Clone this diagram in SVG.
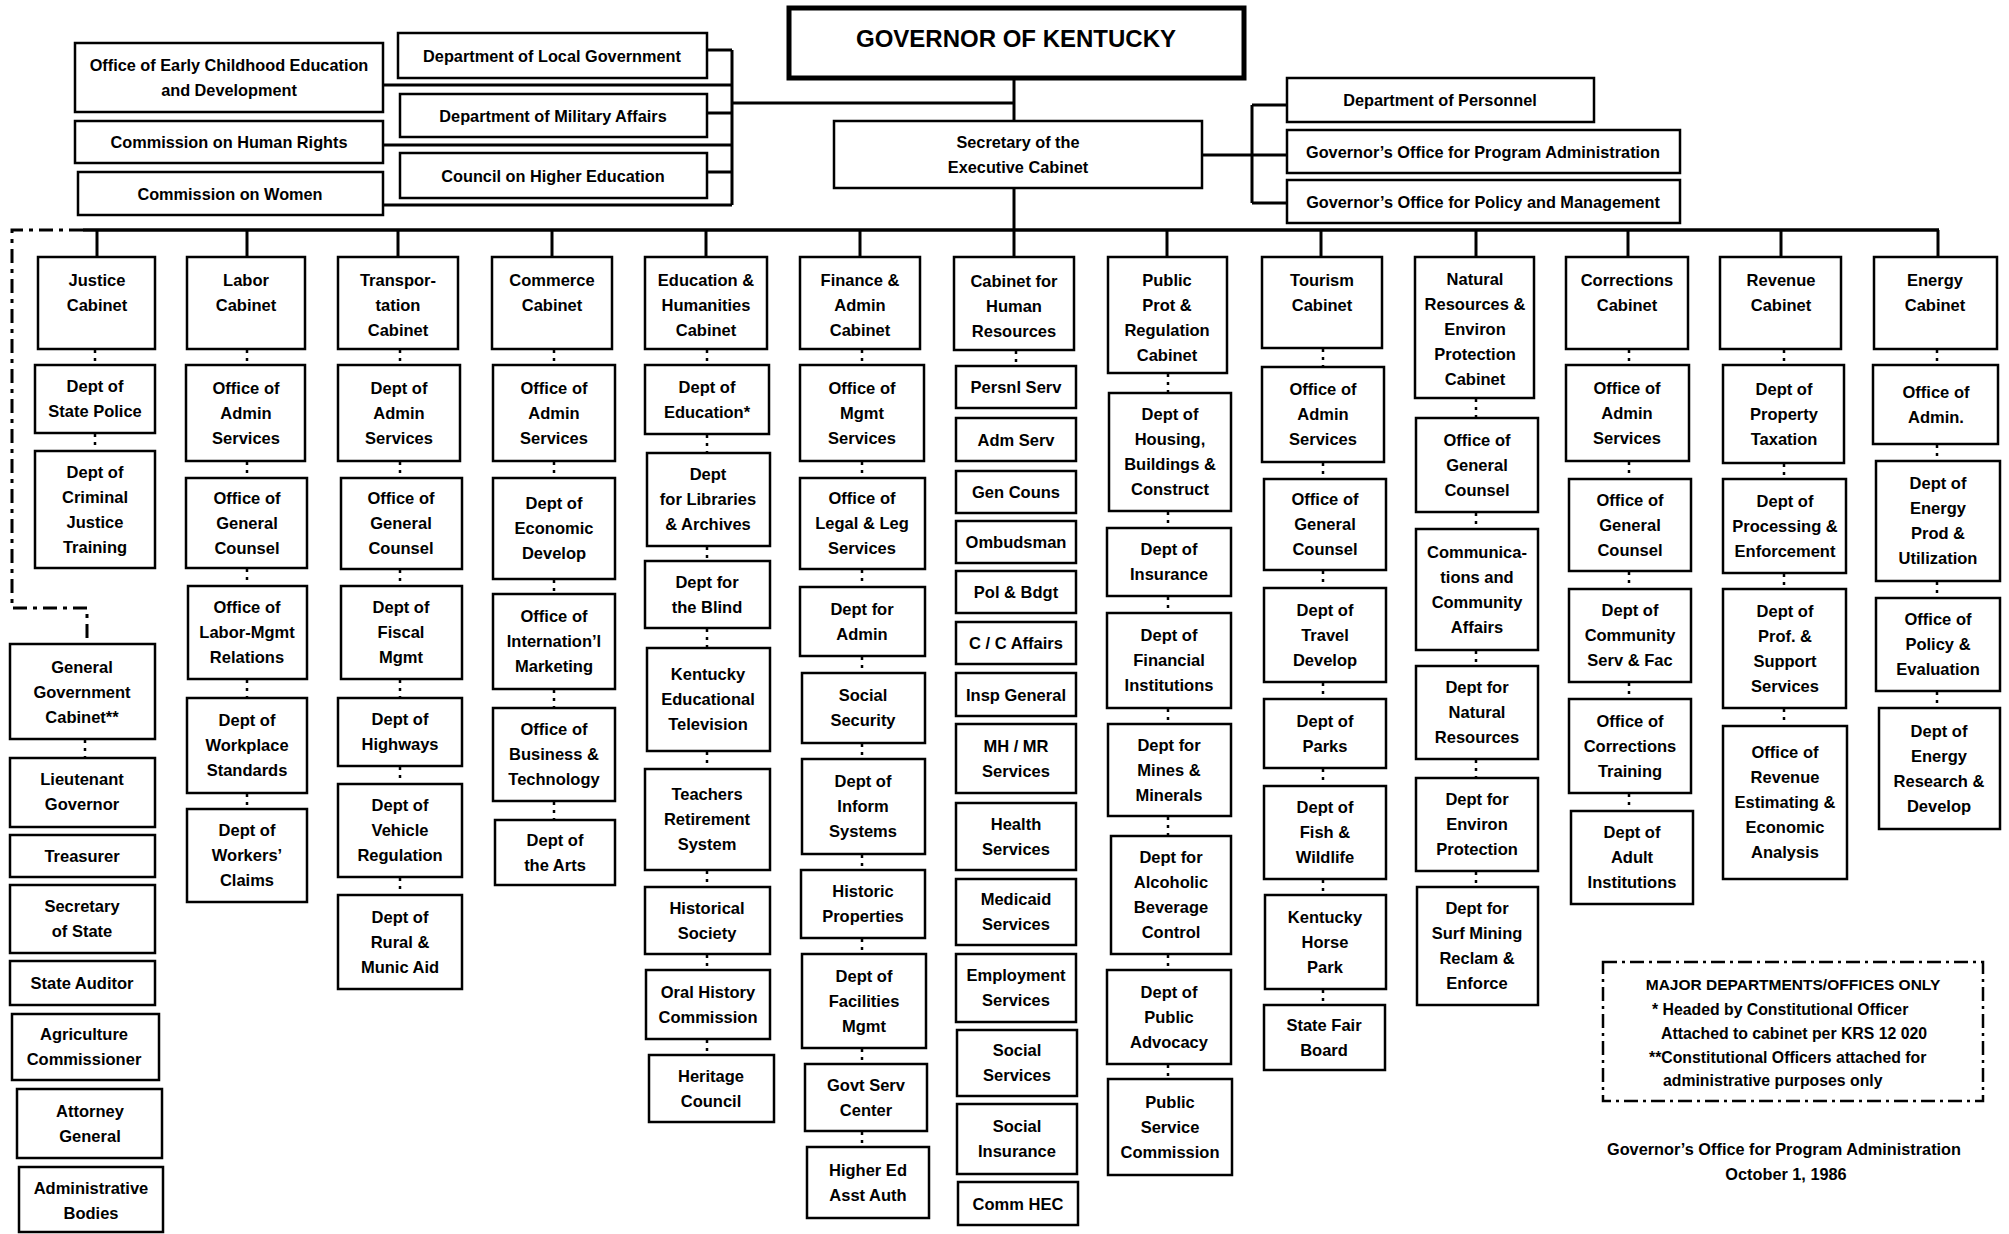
<svg xmlns="http://www.w3.org/2000/svg" width="2009" height="1234" viewBox="0 0 2009 1234">
<style>
.node rect{fill:#fff;stroke:#000;stroke-width:2.5}
text{font-family:"Liberation Sans",Arial,sans-serif;font-weight:bold;font-size:16.5px;text-anchor:middle;fill:#000}
.top text{font-size:16.3px}
#governor rect{stroke-width:5}
#governor text{font-size:24px}
.conn line,.conn path{stroke:#000;stroke-width:3;fill:none}
.conn .dot{stroke-width:2.5;stroke-dasharray:3 5}
.conn .dashdot{stroke-width:3;stroke-dasharray:14 6 4 6}
.legend rect{fill:none;stroke:#000;stroke-width:2.5;stroke-dasharray:14 5 3 5}
.legend text{font-size:15.8px;text-anchor:start}
.legend .c{text-anchor:middle;font-size:15.5px}
.footer text{font-size:16.3px}
</style>
<rect width="2009" height="1234" fill="#fff"/>

<g class="conn" id="connectors">
<line x1="1014" y1="78" x2="1014" y2="121"/>
<line x1="732" y1="103" x2="1014" y2="103"/>
<line x1="732" y1="50" x2="732" y2="205"/>
<line x1="707" y1="50" x2="732" y2="50"/>
<line x1="707" y1="113" x2="732" y2="113"/>
<line x1="707" y1="172" x2="732" y2="172"/>
<line x1="383" y1="85" x2="732" y2="85"/>
<line x1="383" y1="145" x2="732" y2="145"/>
<line x1="383" y1="205" x2="732" y2="205"/>
<line x1="1014" y1="188" x2="1014" y2="230"/>
<line x1="1202" y1="155" x2="1287" y2="155"/>
<line x1="1252" y1="105" x2="1252" y2="203"/>
<line x1="1252" y1="105" x2="1287" y2="105"/>
<line x1="1252" y1="203" x2="1287" y2="203"/>
<line x1="83" y1="230" x2="1939" y2="230" style="stroke-width:3.5"/>
<line x1="97" y1="230" x2="97" y2="257"/>
<line x1="247" y1="230" x2="247" y2="257"/>
<line x1="398" y1="230" x2="398" y2="257"/>
<line x1="552" y1="230" x2="552" y2="257"/>
<line x1="706" y1="230" x2="706" y2="257"/>
<line x1="860" y1="230" x2="860" y2="257"/>
<line x1="1014" y1="230" x2="1014" y2="257"/>
<line x1="1167" y1="230" x2="1167" y2="257"/>
<line x1="1321" y1="230" x2="1321" y2="257"/>
<line x1="1476" y1="230" x2="1476" y2="257"/>
<line x1="1628" y1="230" x2="1628" y2="257"/>
<line x1="1781" y1="230" x2="1781" y2="257"/>
<line x1="1938" y1="230" x2="1938" y2="257"/>
<path class="dashdot" d="M83,230 H12 V608 H87 V644"/>
<line class="dot" x1="95" y1="350" x2="95" y2="365"/>
<line class="dot" x1="95" y1="434" x2="95" y2="451"/>
<line class="dot" x1="85" y1="740" x2="85" y2="758"/>
<line class="dot" x1="247" y1="350" x2="247" y2="365"/>
<line class="dot" x1="247" y1="462" x2="247" y2="478"/>
<line class="dot" x1="247" y1="569" x2="247" y2="586"/>
<line class="dot" x1="247" y1="680" x2="247" y2="698"/>
<line class="dot" x1="247" y1="794" x2="247" y2="809"/>
<line class="dot" x1="400" y1="350" x2="400" y2="365"/>
<line class="dot" x1="400" y1="462" x2="400" y2="478"/>
<line class="dot" x1="400" y1="570" x2="400" y2="586"/>
<line class="dot" x1="400" y1="680" x2="400" y2="698"/>
<line class="dot" x1="400" y1="767" x2="400" y2="784"/>
<line class="dot" x1="400" y1="878" x2="400" y2="895"/>
<line class="dot" x1="554" y1="350" x2="554" y2="365"/>
<line class="dot" x1="554" y1="462" x2="554" y2="478"/>
<line class="dot" x1="554" y1="580" x2="554" y2="594"/>
<line class="dot" x1="554" y1="690" x2="554" y2="708"/>
<line class="dot" x1="554" y1="802" x2="554" y2="820"/>
<line class="dot" x1="707" y1="350" x2="707" y2="365"/>
<line class="dot" x1="707" y1="435" x2="707" y2="453"/>
<line class="dot" x1="707" y1="547" x2="707" y2="561"/>
<line class="dot" x1="707" y1="629" x2="707" y2="648"/>
<line class="dot" x1="707" y1="752" x2="707" y2="769"/>
<line class="dot" x1="707" y1="871" x2="707" y2="887"/>
<line class="dot" x1="707" y1="955" x2="707" y2="970"/>
<line class="dot" x1="707" y1="1040" x2="707" y2="1055"/>
<line class="dot" x1="862" y1="350" x2="862" y2="365"/>
<line class="dot" x1="862" y1="462" x2="862" y2="478"/>
<line class="dot" x1="862" y1="570" x2="862" y2="587"/>
<line class="dot" x1="862" y1="657" x2="862" y2="673"/>
<line class="dot" x1="862" y1="744" x2="862" y2="759"/>
<line class="dot" x1="862" y1="855" x2="862" y2="870"/>
<line class="dot" x1="862" y1="939" x2="862" y2="954"/>
<line class="dot" x1="862" y1="1049" x2="862" y2="1064"/>
<line class="dot" x1="862" y1="1132" x2="862" y2="1147"/>
<line class="dot" x1="1016" y1="351" x2="1016" y2="366"/>
<line class="dot" x1="1168" y1="374" x2="1168" y2="393"/>
<line class="dot" x1="1168" y1="512" x2="1168" y2="528"/>
<line class="dot" x1="1168" y1="597" x2="1168" y2="613"/>
<line class="dot" x1="1168" y1="709" x2="1168" y2="724"/>
<line class="dot" x1="1168" y1="817" x2="1168" y2="836"/>
<line class="dot" x1="1168" y1="955" x2="1168" y2="970"/>
<line class="dot" x1="1168" y1="1065" x2="1168" y2="1079"/>
<line class="dot" x1="1323" y1="349" x2="1323" y2="367"/>
<line class="dot" x1="1323" y1="463" x2="1323" y2="479"/>
<line class="dot" x1="1323" y1="571" x2="1323" y2="588"/>
<line class="dot" x1="1323" y1="683" x2="1323" y2="699"/>
<line class="dot" x1="1323" y1="769" x2="1323" y2="786"/>
<line class="dot" x1="1323" y1="880" x2="1323" y2="895"/>
<line class="dot" x1="1323" y1="990" x2="1323" y2="1005"/>
<line class="dot" x1="1476" y1="399" x2="1476" y2="418"/>
<line class="dot" x1="1476" y1="513" x2="1476" y2="529"/>
<line class="dot" x1="1476" y1="651" x2="1476" y2="666"/>
<line class="dot" x1="1476" y1="760" x2="1476" y2="778"/>
<line class="dot" x1="1476" y1="872" x2="1476" y2="887"/>
<line class="dot" x1="1629" y1="350" x2="1629" y2="365"/>
<line class="dot" x1="1629" y1="462" x2="1629" y2="479"/>
<line class="dot" x1="1629" y1="572" x2="1629" y2="589"/>
<line class="dot" x1="1629" y1="683" x2="1629" y2="699"/>
<line class="dot" x1="1629" y1="794" x2="1629" y2="811"/>
<line class="dot" x1="1784" y1="350" x2="1784" y2="365"/>
<line class="dot" x1="1784" y1="464" x2="1784" y2="479"/>
<line class="dot" x1="1784" y1="574" x2="1784" y2="589"/>
<line class="dot" x1="1784" y1="709" x2="1784" y2="726"/>
<line class="dot" x1="1937" y1="350" x2="1937" y2="365"/>
<line class="dot" x1="1937" y1="445" x2="1937" y2="461"/>
<line class="dot" x1="1937" y1="582" x2="1937" y2="598"/>
<line class="dot" x1="1937" y1="692" x2="1937" y2="708"/>
</g>

<!-- Top -->
<g id="governor" class="node"><rect x="789" y="8" width="455" height="70"/><text x="1016" y="47">GOVERNOR OF KENTUCKY</text></g>
<g id="secretary" class="node top"><rect x="834" y="121" width="368" height="67"/><text x="1018" y="148">Secretary of the<tspan x="1018" dy="25">Executive Cabinet</tspan></text></g>
<g id="early-childhood" class="node top"><rect x="75" y="43" width="308" height="69"/><text x="229" y="71">Office of Early Childhood Education<tspan x="229" dy="25">and Development</tspan></text></g>
<g id="human-rights" class="node top"><rect x="75" y="121" width="308" height="42"/><text x="229" y="148">Commission on Human Rights</text></g>
<g id="women" class="node top"><rect x="78" y="172" width="305" height="43"/><text x="230" y="199.5">Commission on Women</text></g>
<g id="local-gov" class="node top"><rect x="398" y="33" width="309" height="45"/><text x="552" y="61.5">Department of Local Government</text></g>
<g id="military" class="node top"><rect x="400" y="94" width="307" height="43"/><text x="553" y="121.5">Department of Military Affairs</text></g>
<g id="higher-ed-council" class="node top"><rect x="400" y="153" width="307" height="45"/><text x="553" y="181.5">Council on Higher Education</text></g>
<g id="personnel" class="node top"><rect x="1287" y="78" width="307" height="44"/><text x="1440" y="105.5">Department of Personnel</text></g>
<g id="program-admin" class="node top"><rect x="1287" y="130" width="393" height="43"/><text x="1483" y="157.5">Governor’s Office for Program Administration</text></g>
<g id="policy-mgmt" class="node top"><rect x="1287" y="180" width="393" height="43"/><text x="1483" y="207.5">Governor’s Office for Policy and Management</text></g>

<!-- Col 1 Justice -->
<g id="justice" class="node"><rect x="38" y="257" width="117" height="92"/><text x="97" y="286">Justice<tspan x="97" dy="25">Cabinet</tspan></text></g>
<g id="state-police" class="node"><rect x="35" y="365" width="120" height="68"/><text x="95" y="392">Dept of<tspan x="95" dy="25">State Police</tspan></text></g>
<g id="criminal-justice" class="node"><rect x="35" y="451" width="120" height="117"/><text x="95" y="477.5">Dept of<tspan x="95" dy="25">Criminal</tspan><tspan x="95" dy="25">Justice</tspan><tspan x="95" dy="25">Training</tspan></text></g>

<!-- General Government -->
<g id="gen-gov" class="node"><rect x="10" y="644" width="145" height="95"/><text x="82" y="673">General<tspan x="82" dy="25">Government</tspan><tspan x="82" dy="25">Cabinet**</tspan></text></g>
<g id="lt-gov" class="node"><rect x="10" y="758" width="145" height="69"/><text x="82" y="785">Lieutenant<tspan x="82" dy="25">Governor</tspan></text></g>
<g id="treasurer" class="node"><rect x="10" y="835" width="145" height="42"/><text x="82" y="861.5">Treasurer</text></g>
<g id="sec-state" class="node"><rect x="10" y="885" width="145" height="68"/><text x="82" y="912">Secretary<tspan x="82" dy="25">of State</tspan></text></g>
<g id="state-auditor" class="node"><rect x="10" y="961" width="145" height="44"/><text x="82" y="988.5">State Auditor</text></g>
<g id="agriculture" class="node"><rect x="12" y="1014" width="147" height="66"/><text x="84" y="1040">Agriculture<tspan x="84" dy="25">Commissioner</tspan></text></g>
<g id="attorney-general" class="node"><rect x="17" y="1089" width="145" height="69"/><text x="90" y="1116.5">Attorney<tspan x="90" dy="25">General</tspan></text></g>
<g id="admin-bodies" class="node"><rect x="19" y="1167" width="144" height="65"/><text x="91" y="1194">Administrative<tspan x="91" dy="25">Bodies</tspan></text></g>

<!-- Col 2 Labor -->
<g id="labor" class="node"><rect x="187" y="257" width="118" height="92"/><text x="246" y="286">Labor<tspan x="246" dy="25">Cabinet</tspan></text></g>
<g id="labor-admin" class="node"><rect x="186" y="365" width="119" height="96"/><text x="246" y="393.5">Office of<tspan x="246" dy="25">Admin</tspan><tspan x="246" dy="25">Services</tspan></text></g>
<g id="labor-counsel" class="node"><rect x="186" y="478" width="121" height="90"/><text x="247" y="503.5">Office of<tspan x="247" dy="25">General</tspan><tspan x="247" dy="25">Counsel</tspan></text></g>
<g id="labor-mgmt" class="node"><rect x="188" y="586" width="119" height="93"/><text x="247" y="613">Office of<tspan x="247" dy="25">Labor-Mgmt</tspan><tspan x="247" dy="25">Relations</tspan></text></g>
<g id="workplace" class="node"><rect x="187" y="698" width="120" height="95"/><text x="247" y="726">Dept of<tspan x="247" dy="25">Workplace</tspan><tspan x="247" dy="25">Standards</tspan></text></g>
<g id="workers-claims" class="node"><rect x="187" y="809" width="120" height="93"/><text x="247" y="836">Dept of<tspan x="247" dy="25">Workers’</tspan><tspan x="247" dy="25">Claims</tspan></text></g>

<!-- Col 3 Transportation -->
<g id="transportation" class="node"><rect x="338" y="257" width="120" height="92"/><text x="398" y="286">Transpor-<tspan x="398" dy="25">tation</tspan><tspan x="398" dy="25">Cabinet</tspan></text></g>
<g id="trans-admin" class="node"><rect x="338" y="365" width="122" height="96"/><text x="399" y="393.5">Dept of<tspan x="399" dy="25">Admin</tspan><tspan x="399" dy="25">Services</tspan></text></g>
<g id="trans-counsel" class="node"><rect x="341" y="478" width="121" height="91"/><text x="401" y="504">Office of<tspan x="401" dy="25">General</tspan><tspan x="401" dy="25">Counsel</tspan></text></g>
<g id="fiscal" class="node"><rect x="341" y="586" width="121" height="93"/><text x="401" y="613">Dept of<tspan x="401" dy="25">Fiscal</tspan><tspan x="401" dy="25">Mgmt</tspan></text></g>
<g id="highways" class="node"><rect x="338" y="698" width="124" height="68"/><text x="400" y="725">Dept of<tspan x="400" dy="25">Highways</tspan></text></g>
<g id="vehicle" class="node"><rect x="338" y="784" width="124" height="93"/><text x="400" y="811">Dept of<tspan x="400" dy="25">Vehicle</tspan><tspan x="400" dy="25">Regulation</tspan></text></g>
<g id="rural" class="node"><rect x="338" y="895" width="124" height="94"/><text x="400" y="922.5">Dept of<tspan x="400" dy="25">Rural &amp;</tspan><tspan x="400" dy="25">Munic Aid</tspan></text></g>

<!-- Col 4 Commerce -->
<g id="commerce" class="node"><rect x="492" y="257" width="120" height="92"/><text x="552" y="286">Commerce<tspan x="552" dy="25">Cabinet</tspan></text></g>
<g id="comm-admin" class="node"><rect x="493" y="365" width="122" height="96"/><text x="554" y="393.5">Office of<tspan x="554" dy="25">Admin</tspan><tspan x="554" dy="25">Services</tspan></text></g>
<g id="econ" class="node"><rect x="493" y="478" width="122" height="101"/><text x="554" y="509">Dept of<tspan x="554" dy="25">Economic</tspan><tspan x="554" dy="25">Develop</tspan></text></g>
<g id="intl" class="node"><rect x="493" y="594" width="122" height="95"/><text x="554" y="622">Office of<tspan x="554" dy="25">Internation’l</tspan><tspan x="554" dy="25">Marketing</tspan></text></g>
<g id="business" class="node"><rect x="493" y="708" width="122" height="93"/><text x="554" y="735">Office of<tspan x="554" dy="25">Business &amp;</tspan><tspan x="554" dy="25">Technology</tspan></text></g>
<g id="arts" class="node"><rect x="495" y="820" width="120" height="65"/><text x="555" y="845.5">Dept of<tspan x="555" dy="25">the Arts</tspan></text></g>

<!-- Col 5 Education -->
<g id="education" class="node"><rect x="645" y="257" width="122" height="92"/><text x="706" y="286">Education &amp;<tspan x="706" dy="25">Humanities</tspan><tspan x="706" dy="25">Cabinet</tspan></text></g>
<g id="dept-education" class="node"><rect x="645" y="365" width="124" height="69"/><text x="707" y="392.5">Dept of<tspan x="707" dy="25">Education*</tspan></text></g>
<g id="libraries" class="node"><rect x="647" y="453" width="123" height="93"/><text x="708" y="480">Dept<tspan x="708" dy="25">for Libraries</tspan><tspan x="708" dy="25">&amp; Archives</tspan></text></g>
<g id="blind" class="node"><rect x="645" y="561" width="125" height="67"/><text x="707" y="587.5">Dept for<tspan x="707" dy="25">the Blind</tspan></text></g>
<g id="ket" class="node"><rect x="647" y="648" width="123" height="103"/><text x="708" y="680">Kentucky<tspan x="708" dy="25">Educational</tspan><tspan x="708" dy="25">Television</tspan></text></g>
<g id="teachers" class="node"><rect x="645" y="769" width="125" height="101"/><text x="707" y="800">Teachers<tspan x="707" dy="25">Retirement</tspan><tspan x="707" dy="25">System</tspan></text></g>
<g id="historical" class="node"><rect x="645" y="887" width="125" height="67"/><text x="707" y="913.5">Historical<tspan x="707" dy="25">Society</tspan></text></g>
<g id="oral-history" class="node"><rect x="646" y="970" width="124" height="69"/><text x="708" y="997.5">Oral History<tspan x="708" dy="25">Commission</tspan></text></g>
<g id="heritage" class="node"><rect x="649" y="1055" width="125" height="67"/><text x="711" y="1081.5">Heritage<tspan x="711" dy="25">Council</tspan></text></g>

<!-- Col 6 Finance -->
<g id="finance" class="node"><rect x="800" y="257" width="120" height="92"/><text x="860" y="286">Finance &amp;<tspan x="860" dy="25">Admin</tspan><tspan x="860" dy="25">Cabinet</tspan></text></g>
<g id="fin-mgmt" class="node"><rect x="800" y="365" width="124" height="96"/><text x="862" y="393.5">Office of<tspan x="862" dy="25">Mgmt</tspan><tspan x="862" dy="25">Services</tspan></text></g>
<g id="fin-legal" class="node"><rect x="800" y="478" width="125" height="91"/><text x="862" y="504">Office of<tspan x="862" dy="25">Legal &amp; Leg</tspan><tspan x="862" dy="25">Services</tspan></text></g>
<g id="fin-admin" class="node"><rect x="800" y="587" width="125" height="69"/><text x="862" y="614.5">Dept for<tspan x="862" dy="25">Admin</tspan></text></g>
<g id="social-security" class="node"><rect x="802" y="673" width="123" height="70"/><text x="863" y="701">Social<tspan x="863" dy="25">Security</tspan></text></g>
<g id="inform" class="node"><rect x="802" y="759" width="123" height="95"/><text x="863" y="787">Dept of<tspan x="863" dy="25">Inform</tspan><tspan x="863" dy="25">Systems</tspan></text></g>
<g id="historic-prop" class="node"><rect x="801" y="870" width="124" height="68"/><text x="863" y="897">Historic<tspan x="863" dy="25">Properties</tspan></text></g>
<g id="facilities" class="node"><rect x="802" y="954" width="124" height="94"/><text x="864" y="981.5">Dept of<tspan x="864" dy="25">Facilities</tspan><tspan x="864" dy="25">Mgmt</tspan></text></g>
<g id="govt-serv" class="node"><rect x="805" y="1064" width="122" height="67"/><text x="866" y="1090.5">Govt Serv<tspan x="866" dy="25">Center</tspan></text></g>
<g id="higher-ed-auth" class="node"><rect x="807" y="1147" width="122" height="71"/><text x="868" y="1175.5">Higher Ed<tspan x="868" dy="25">Asst Auth</tspan></text></g>

<!-- Col 7 Human Resources -->
<g id="human-resources" class="node"><rect x="954" y="257" width="120" height="93"/><text x="1014" y="287">Cabinet for<tspan x="1014" dy="25">Human</tspan><tspan x="1014" dy="25">Resources</tspan></text></g>
<g id="persnl" class="node"><rect x="956" y="366" width="120" height="42"/><text x="1016" y="393">Persnl Serv</text></g>
<g id="adm-serv" class="node"><rect x="956" y="418" width="120" height="43"/><text x="1016" y="445.5">Adm Serv</text></g>
<g id="gen-couns" class="node"><rect x="956" y="471" width="120" height="42"/><text x="1016" y="498">Gen Couns</text></g>
<g id="ombudsman" class="node"><rect x="956" y="521" width="120" height="42"/><text x="1016" y="548">Ombudsman</text></g>
<g id="pol-bdgt" class="node"><rect x="956" y="571" width="120" height="42"/><text x="1016" y="598">Pol &amp; Bdgt</text></g>
<g id="cc-affairs" class="node"><rect x="956" y="622" width="120" height="42"/><text x="1016" y="649">C / C Affairs</text></g>
<g id="insp-general" class="node"><rect x="956" y="673" width="120" height="43"/><text x="1016" y="700.5">Insp General</text></g>
<g id="mhmr" class="node"><rect x="956" y="724" width="120" height="69"/><text x="1016" y="751.5">MH / MR<tspan x="1016" dy="25">Services</tspan></text></g>
<g id="health" class="node"><rect x="956" y="803" width="120" height="67"/><text x="1016" y="829.5">Health<tspan x="1016" dy="25">Services</tspan></text></g>
<g id="medicaid" class="node"><rect x="956" y="879" width="120" height="66"/><text x="1016" y="905">Medicaid<tspan x="1016" dy="25">Services</tspan></text></g>
<g id="employment" class="node"><rect x="956" y="954" width="120" height="68"/><text x="1016" y="981">Employment<tspan x="1016" dy="25">Services</tspan></text></g>
<g id="social-services" class="node"><rect x="957" y="1030" width="120" height="66"/><text x="1017" y="1056">Social<tspan x="1017" dy="25">Services</tspan></text></g>
<g id="social-insurance" class="node"><rect x="957" y="1104" width="120" height="70"/><text x="1017" y="1132">Social<tspan x="1017" dy="25">Insurance</tspan></text></g>
<g id="comm-hec" class="node"><rect x="958" y="1182" width="120" height="43"/><text x="1018" y="1209.5">Comm HEC</text></g>

<!-- Col 8 Public Protection -->
<g id="public-prot" class="node"><rect x="1108" y="257" width="119" height="116"/><text x="1167" y="286">Public<tspan x="1167" dy="25">Prot &amp;</tspan><tspan x="1167" dy="25">Regulation</tspan><tspan x="1167" dy="25">Cabinet</tspan></text></g>
<g id="housing" class="node"><rect x="1109" y="393" width="122" height="118"/><text x="1170" y="420">Dept of<tspan x="1170" dy="25">Housing,</tspan><tspan x="1170" dy="25">Buildings &amp;</tspan><tspan x="1170" dy="25">Construct</tspan></text></g>
<g id="insurance" class="node"><rect x="1107" y="528" width="124" height="68"/><text x="1169" y="555">Dept of<tspan x="1169" dy="25">Insurance</tspan></text></g>
<g id="financial" class="node"><rect x="1107" y="613" width="124" height="95"/><text x="1169" y="641">Dept of<tspan x="1169" dy="25">Financial</tspan><tspan x="1169" dy="25">Institutions</tspan></text></g>
<g id="mines" class="node"><rect x="1108" y="724" width="123" height="92"/><text x="1169" y="750.5">Dept for<tspan x="1169" dy="25">Mines &amp;</tspan><tspan x="1169" dy="25">Minerals</tspan></text></g>
<g id="alcoholic" class="node"><rect x="1111" y="836" width="120" height="118"/><text x="1171" y="863">Dept for<tspan x="1171" dy="25">Alcoholic</tspan><tspan x="1171" dy="25">Beverage</tspan><tspan x="1171" dy="25">Control</tspan></text></g>
<g id="advocacy" class="node"><rect x="1107" y="970" width="124" height="94"/><text x="1169" y="997.5">Dept of<tspan x="1169" dy="25">Public</tspan><tspan x="1169" dy="25">Advocacy</tspan></text></g>
<g id="psc" class="node"><rect x="1108" y="1079" width="124" height="96"/><text x="1170" y="1107.5">Public<tspan x="1170" dy="25">Service</tspan><tspan x="1170" dy="25">Commission</tspan></text></g>

<!-- Col 9 Tourism -->
<g id="tourism" class="node"><rect x="1262" y="257" width="120" height="91"/><text x="1322" y="286">Tourism<tspan x="1322" dy="25">Cabinet</tspan></text></g>
<g id="tour-admin" class="node"><rect x="1262" y="367" width="122" height="95"/><text x="1323" y="395">Office of<tspan x="1323" dy="25">Admin</tspan><tspan x="1323" dy="25">Services</tspan></text></g>
<g id="tour-counsel" class="node"><rect x="1264" y="479" width="122" height="91"/><text x="1325" y="505">Office of<tspan x="1325" dy="25">General</tspan><tspan x="1325" dy="25">Counsel</tspan></text></g>
<g id="travel" class="node"><rect x="1264" y="588" width="122" height="94"/><text x="1325" y="615.5">Dept of<tspan x="1325" dy="25">Travel</tspan><tspan x="1325" dy="25">Develop</tspan></text></g>
<g id="parks" class="node"><rect x="1264" y="699" width="122" height="69"/><text x="1325" y="726.5">Dept of<tspan x="1325" dy="25">Parks</tspan></text></g>
<g id="fish" class="node"><rect x="1264" y="786" width="122" height="93"/><text x="1325" y="813">Dept of<tspan x="1325" dy="25">Fish &amp;</tspan><tspan x="1325" dy="25">Wildlife</tspan></text></g>
<g id="horse-park" class="node"><rect x="1265" y="895" width="121" height="94"/><text x="1325" y="922.5">Kentucky<tspan x="1325" dy="25">Horse</tspan><tspan x="1325" dy="25">Park</tspan></text></g>
<g id="state-fair" class="node"><rect x="1264" y="1005" width="121" height="65"/><text x="1324" y="1030.5">State Fair<tspan x="1324" dy="25">Board</tspan></text></g>

<!-- Col 10 Natural Resources -->
<g id="natural-resources" class="node"><rect x="1415" y="257" width="119" height="141"/><text x="1475" y="285">Natural<tspan x="1475" dy="25">Resources &amp;</tspan><tspan x="1475" dy="25">Environ</tspan><tspan x="1475" dy="25">Protection</tspan><tspan x="1475" dy="25">Cabinet</tspan></text></g>
<g id="nr-counsel" class="node"><rect x="1416" y="418" width="122" height="94"/><text x="1477" y="445.5">Office of<tspan x="1477" dy="25">General</tspan><tspan x="1477" dy="25">Counsel</tspan></text></g>
<g id="communications" class="node"><rect x="1416" y="529" width="122" height="121"/><text x="1477" y="557.5">Communica-<tspan x="1477" dy="25">tions and</tspan><tspan x="1477" dy="25">Community</tspan><tspan x="1477" dy="25">Affairs</tspan></text></g>
<g id="nat-res-dept" class="node"><rect x="1416" y="666" width="122" height="93"/><text x="1477" y="693">Dept for<tspan x="1477" dy="25">Natural</tspan><tspan x="1477" dy="25">Resources</tspan></text></g>
<g id="env-prot" class="node"><rect x="1416" y="778" width="122" height="93"/><text x="1477" y="805">Dept for<tspan x="1477" dy="25">Environ</tspan><tspan x="1477" dy="25">Protection</tspan></text></g>
<g id="surf-mining" class="node"><rect x="1417" y="887" width="121" height="118"/><text x="1477" y="914">Dept for<tspan x="1477" dy="25">Surf Mining</tspan><tspan x="1477" dy="25">Reclam &amp;</tspan><tspan x="1477" dy="25">Enforce</tspan></text></g>

<!-- Col 11 Corrections -->
<g id="corrections" class="node"><rect x="1566" y="257" width="122" height="92"/><text x="1627" y="286">Corrections<tspan x="1627" dy="25">Cabinet</tspan></text></g>
<g id="corr-admin" class="node"><rect x="1566" y="365" width="123" height="96"/><text x="1627" y="393.5">Office of<tspan x="1627" dy="25">Admin</tspan><tspan x="1627" dy="25">Services</tspan></text></g>
<g id="corr-counsel" class="node"><rect x="1569" y="479" width="122" height="92"/><text x="1630" y="505.5">Office of<tspan x="1630" dy="25">General</tspan><tspan x="1630" dy="25">Counsel</tspan></text></g>
<g id="community" class="node"><rect x="1569" y="589" width="122" height="93"/><text x="1630" y="616">Dept of<tspan x="1630" dy="25">Community</tspan><tspan x="1630" dy="25">Serv &amp; Fac</tspan></text></g>
<g id="corr-training" class="node"><rect x="1569" y="699" width="122" height="94"/><text x="1630" y="726.5">Office of<tspan x="1630" dy="25">Corrections</tspan><tspan x="1630" dy="25">Training</tspan></text></g>
<g id="adult" class="node"><rect x="1571" y="811" width="122" height="93"/><text x="1632" y="838">Dept of<tspan x="1632" dy="25">Adult</tspan><tspan x="1632" dy="25">Institutions</tspan></text></g>

<!-- Col 12 Revenue -->
<g id="revenue" class="node"><rect x="1720" y="257" width="121" height="92"/><text x="1781" y="286">Revenue<tspan x="1781" dy="25">Cabinet</tspan></text></g>
<g id="property" class="node"><rect x="1723" y="365" width="121" height="98"/><text x="1784" y="394.5">Dept of<tspan x="1784" dy="25">Property</tspan><tspan x="1784" dy="25">Taxation</tspan></text></g>
<g id="processing" class="node"><rect x="1723" y="479" width="123" height="94"/><text x="1785" y="506.5">Dept of<tspan x="1785" dy="25">Processing &amp;</tspan><tspan x="1785" dy="25">Enforcement</tspan></text></g>
<g id="prof-support" class="node"><rect x="1723" y="589" width="123" height="119"/><text x="1785" y="616.5">Dept of<tspan x="1785" dy="25">Prof. &amp;</tspan><tspan x="1785" dy="25">Support</tspan><tspan x="1785" dy="25">Services</tspan></text></g>
<g id="estimating" class="node"><rect x="1723" y="726" width="124" height="153"/><text x="1785" y="758">Office of<tspan x="1785" dy="25">Revenue</tspan><tspan x="1785" dy="25">Estimating &amp;</tspan><tspan x="1785" dy="25">Economic</tspan><tspan x="1785" dy="25">Analysis</tspan></text></g>

<!-- Col 13 Energy -->
<g id="energy" class="node"><rect x="1874" y="257" width="123" height="92"/><text x="1935" y="286">Energy<tspan x="1935" dy="25">Cabinet</tspan></text></g>
<g id="energy-admin" class="node"><rect x="1873" y="365" width="125" height="79"/><text x="1936" y="397.5">Office of<tspan x="1936" dy="25">Admin.</tspan></text></g>
<g id="energy-prod" class="node"><rect x="1876" y="461" width="124" height="120"/><text x="1938" y="489">Dept of<tspan x="1938" dy="25">Energy</tspan><tspan x="1938" dy="25">Prod &amp;</tspan><tspan x="1938" dy="25">Utilization</tspan></text></g>
<g id="energy-policy" class="node"><rect x="1876" y="598" width="124" height="93"/><text x="1938" y="625">Office of<tspan x="1938" dy="25">Policy &amp;</tspan><tspan x="1938" dy="25">Evaluation</tspan></text></g>
<g id="energy-research" class="node"><rect x="1879" y="708" width="121" height="121"/><text x="1939" y="736.5">Dept of<tspan x="1939" dy="25">Energy</tspan><tspan x="1939" dy="25">Research &amp;</tspan><tspan x="1939" dy="25">Develop</tspan></text></g>

<!-- Legend -->
<g id="legend" class="legend">
<rect x="1603" y="962" width="380" height="139"/>
<text class="c" x="1793" y="990">MAJOR DEPARTMENTS/OFFICES ONLY</text>
<text x="1652" y="1015">* Headed by Constitutional Officer</text>
<text x="1661" y="1039">Attached to cabinet per KRS 12 020</text>
<text x="1649" y="1063">**Constitutional Officers attached for</text>
<text x="1663" y="1086">administrative purposes only</text>
</g>
<g id="footer" class="footer">
<text x="1784" y="1155">Governor’s Office for Program Administration</text>
<text x="1786" y="1180">October 1, 1986</text>
</g>
</svg>
